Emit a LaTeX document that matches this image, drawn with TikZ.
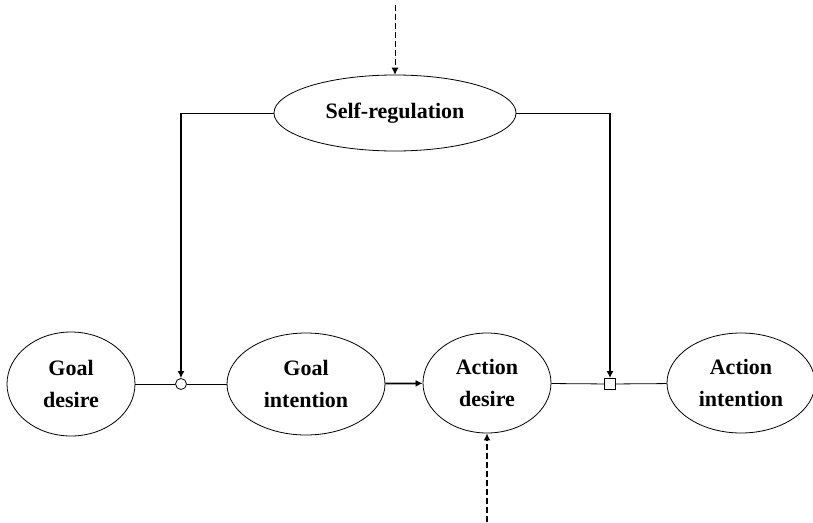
\documentclass[tikz,border=0pt]{standalone}
\usepackage{fontspec}
\setmainfont{Liberation Serif}
\usetikzlibrary{arrows.meta,positioning,shapes.geometric}

\begin{document}
\begin{tikzpicture}[x=1pt,y=-1pt,>={Latex[length=7pt,width=7pt]},
  state/.style={ellipse,draw,thick,fill=white,inner sep=0pt,align=center,
    font=\fontsize{22}{32}\selectfont\bfseries},
  link/.style={thick}, control/.style={->,line width=2.6pt},
  feed/.style={->,dashed,thick},
  joint/.style={draw,thick,fill=white,minimum size=11pt,inner sep=0pt}]
\useasboundingbox (0,0) rectangle (813,522);
\node[state,minimum width=242pt,minimum height=76pt] (sr) at (395,113) {Self-regulation};
\node[state,minimum width=128pt,minimum height=104pt] (gd) at (71,384) {Goal\\desire};
\node[state,minimum width=158pt,minimum height=102pt] (gi) at (306,384) {Goal\\intention};
\node[state,minimum width=128pt,minimum height=100pt] (ad) at (487,383) {Action\\desire};
\node[state,minimum width=148pt,minimum height=100pt] (ai) at (741,383) {Action\\intention};
\node[joint,circle] (jl) at (181,384) {};
\node[joint,rectangle] (jr) at (610,384) {};
\coordinate (cl) at (181,113);
\coordinate (cr) at (610,113);
\coordinate (top) at (395,5);
\coordinate (bot) at (487,522);
\draw[link] (gd) -- (jl) -- (gi);
\draw[link] (ad) -- (jr) -- (ai);
\draw[->,line width=1.8pt] (gi) -- (ad);
\draw[link] (sr.west) -- (cl);
\draw[link] (sr.east) -- (cr);
\draw[control] (cl) -- (jl.north);
\draw[control] (cr) -- (jr.north);
\draw[feed,dash pattern=on 6pt off 3pt] (top) -- (sr.north);
\draw[feed,line width=2.6pt,dash pattern=on 6pt off 3pt] (bot) -- (ad.south);
\end{tikzpicture}
\end{document}
